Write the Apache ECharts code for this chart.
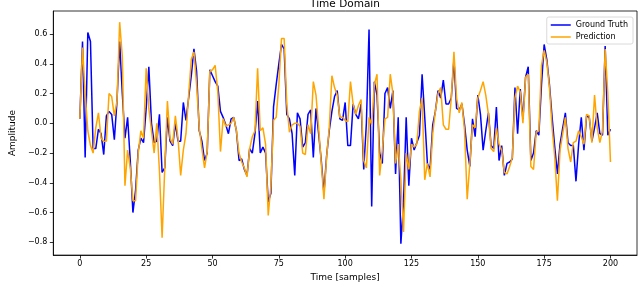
<!DOCTYPE html>
<html>
<head>
<meta charset="utf-8">
<script src="https://cdn.jsdelivr.net/npm/echarts@6/dist/echarts.min.js"></script>
<style>html,body{margin:0;padding:0;background:#fff}#c{width:640px;height:287px}</style>
</head>
<body>
<div id="c"></div>
<script>
const groundTruth = [0.03,0.55,-0.23,0.61,0.55,-0.17,-0.17,-0.04,-0.07,-0.21,
0.05,0.08,0.06,-0.11,0.15,0.55,0.2,-0.1,0.04,-0.25,
-0.6,-0.45,-0.18,-0.1,-0.13,0.1,0.38,0.0,-0.13,-0.12,
0.06,-0.33,-0.3,0.04,-0.12,-0.15,0.0,-0.12,-0.12,0.14,
0.02,0.17,0.32,0.5,0.35,-0.05,-0.12,-0.25,-0.2,0.36,
0.32,0.28,0.25,0.08,0.04,-0.01,-0.07,0.03,0.04,-0.05,
-0.25,-0.24,-0.31,-0.35,-0.17,-0.2,-0.07,0.15,-0.2,-0.16,
-0.2,-0.53,-0.47,0.11,0.26,0.4,0.53,0.5,0.06,0.03,
-0.07,-0.35,0.07,0.03,-0.16,-0.13,0.06,0.09,-0.23,0.1,
-0.07,-0.25,-0.47,-0.22,-0.05,0.08,0.18,0.22,0.03,0.02,
0.14,-0.15,-0.15,0.13,0.06,0.03,0.13,-0.31,0.0,0.63,
-0.56,0.28,0.19,-0.2,-0.27,0.2,0.24,0.1,0.22,-0.34,
0.04,-0.81,-0.53,0.04,-0.42,-0.1,-0.18,-0.13,-0.08,0.33,
0.04,-0.27,-0.31,-0.01,0.08,0.22,0.17,0.29,0.13,0.13,
0.17,0.43,0.1,0.09,0.13,-0.01,-0.18,-0.29,0.03,-0.09,
0.19,0.06,-0.18,-0.05,0.07,-0.15,-0.17,0.11,-0.25,-0.15,
-0.35,-0.27,-0.26,-0.24,0.24,-0.07,0.23,0.03,0.31,0.38,
-0.25,-0.2,-0.05,-0.08,0.26,0.53,0.43,0.26,0.04,-0.16,
-0.34,-0.14,-0.03,0.07,-0.13,-0.15,-0.15,-0.39,-0.14,0.04,
-0.18,0.05,0.04,-0.12,-0.03,0.07,-0.07,-0.08,0.52,-0.08,
-0.04];
const prediction = [0.03,0.51,0.2,-0.05,-0.15,-0.2,-0.03,0.07,-0.1,-0.12,
-0.12,0.2,0.18,0.05,0.15,0.68,0.45,-0.42,-0.18,-0.3,
-0.52,-0.52,-0.2,-0.05,-0.1,0.37,0.1,-0.05,-0.2,0.0,
-0.32,-0.77,-0.3,0.15,-0.1,-0.14,0.05,-0.1,-0.35,-0.18,
-0.07,0.19,0.43,0.48,0.26,-0.03,-0.17,-0.3,-0.19,0.35,
0.36,0.39,0.21,-0.19,0.03,-0.02,-0.01,0.0,0.04,-0.05,
-0.2,-0.26,-0.3,-0.36,-0.17,-0.09,-0.05,0.37,-0.05,-0.03,
-0.14,-0.62,-0.42,0.02,0.04,0.26,0.57,0.57,0.13,-0.06,
-0.01,0.0,0.0,-0.02,-0.2,-0.21,-0.01,-0.07,0.28,0.19,
-0.03,-0.27,-0.51,-0.23,-0.03,0.32,0.24,0.19,0.04,0.04,
0.02,0.01,0.28,0.13,0.06,0.12,0.16,-0.25,-0.3,0.04,
-0.01,0.26,0.33,-0.35,-0.18,0.03,0.04,0.33,0.2,-0.27,
-0.14,-0.38,-0.73,-0.2,-0.31,-0.14,-0.16,-0.14,0.08,0.17,
-0.38,-0.27,-0.36,-0.07,0.08,0.2,0.24,-0.01,-0.04,-0.04,
0.17,0.48,0.17,0.07,0.14,-0.05,-0.51,-0.27,-0.01,-0.03,
0.17,0.22,0.28,0.19,0.06,-0.17,-0.19,-0.03,-0.14,-0.18,
-0.33,-0.34,-0.29,-0.23,0.17,0.25,0.21,0.0,0.31,0.33,
-0.29,-0.31,-0.06,-0.05,0.39,0.49,0.41,0.24,-0.03,-0.23,
-0.52,-0.18,-0.07,0.04,-0.17,-0.26,-0.13,-0.12,-0.05,-0.09,
-0.14,0.06,0.05,-0.13,0.19,-0.03,-0.13,-0.05,0.5,0.2,
-0.26];
const xTicks = [0,25,50,75,100,125,150,175,200];
const yTicks = [-0.8,-0.6,-0.4,-0.2,0.0,0.2,0.4,0.6];

const toPairs = arr => arr.map((v,i)=>[i,v]);
const FONT = 'DejaVu Sans';
const fmtY = v => (v<0?'\u2212':'') + Math.abs(v).toFixed(1);

const chart = echarts.init(document.getElementById('c'), null, {renderer:'canvas'});
chart.setOption({
  animation:false,
  backgroundColor:'#fff',
  textStyle:{fontFamily:FONT},
  title:{text:'Time Domain', left:340, top:-6, textAlign:'center',
    textStyle:{fontFamily:FONT, fontSize:10.5, fontWeight:'normal', color:'#000'}},
  legend:{
    orient:'vertical', right:7, top:17,
    data:['Ground Truth','Prediction'],
    icon:'rect', itemWidth:20, itemHeight:1.5, itemGap:4,
    padding:[4,5,3,4],
    borderColor:'#d0d0d0', borderWidth:0.8, borderRadius:2,
    backgroundColor:'rgba(255,255,255,0.8)',
    textStyle:{fontFamily:FONT, fontSize:8, color:'#000', padding:[0,0,0,0]}
  },
  grid:{left:41, right:3, top:11, bottom:27, show:true, borderColor:'#000', borderWidth:0.8},
  xAxis:{
    type:'value', min:-10, max:210,
    name:'Time [samples]', nameLocation:'middle', nameGap:16,
    nameTextStyle:{fontFamily:FONT, fontSize:9, color:'#000'},
    axisLine:{show:true, onZero:false, lineStyle:{color:'#000', width:0.8}},
    axisTick:{show:true, length:3.5, lineStyle:{color:'#000', width:0.8}, customValues:xTicks},
    axisLabel:{fontFamily:FONT, fontSize:8, color:'#000', margin:5, customValues:xTicks},
    splitLine:{show:false}
  },
  yAxis:{
    type:'value', min:-0.886, max:0.755,
    name:'Amplitude', nameLocation:'middle', nameGap:32,
    nameTextStyle:{fontFamily:FONT, fontSize:9, color:'#000'},
    axisLine:{show:true, onZero:false, lineStyle:{color:'#000', width:0.8}},
    axisTick:{show:true, length:3.5, lineStyle:{color:'#000', width:0.8}, customValues:yTicks},
    axisLabel:{fontFamily:FONT, fontSize:8, color:'#000', margin:6, customValues:yTicks, formatter:fmtY},
    splitLine:{show:false}
  },
  series:[
    {name:'Ground Truth', type:'line', data:toPairs(groundTruth), showSymbol:false,
      lineStyle:{color:'#0000ff', width:1.5}, itemStyle:{color:'#0000ff'}},
    {name:'Prediction', type:'line', data:toPairs(prediction), showSymbol:false,
      lineStyle:{color:'#ffa500', width:1.5}, itemStyle:{color:'#ffa500'}}
  ]
});
</script>
</body>
</html>
